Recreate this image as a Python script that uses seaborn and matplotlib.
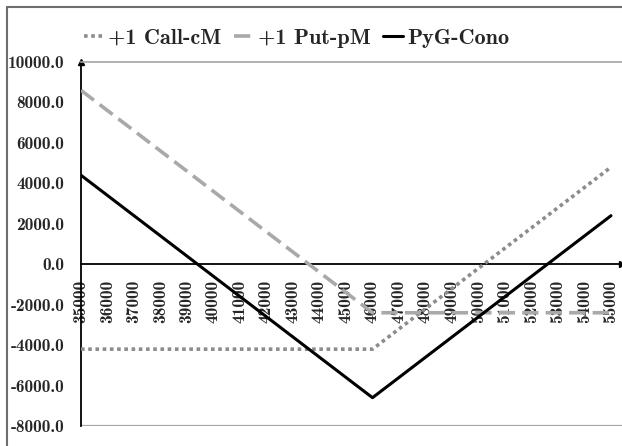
import numpy as np
import pandas as pd
import matplotlib
matplotlib.use("Agg")
import matplotlib.pyplot as plt
from matplotlib.lines import Line2D
import seaborn as sns

# Underlying price at expiry
strikes = [35000, 36000, 37000, 38000, 39000, 40000, 41000, 42000, 43000, 44000, 45000,
           46000, 47000, 48000, 49000, 50000, 51000, 52000, 53000, 54000, 55000]
# Profit / loss of each leg and of the long straddle
call_pl = [-4200, -4200, -4200, -4200, -4200, -4200, -4200, -4200, -4200, -4200, -4200,
           -4200, -3200, -2200, -1200, -200, 800, 1800, 2800, 3800, 4800]
put_pl = [8600, 7600, 6600, 5600, 4600, 3600, 2600, 1600, 600, -400, -1400,
          -2400, -2400, -2400, -2400, -2400, -2400, -2400, -2400, -2400, -2400]
cono_pl = [4400, 3400, 2400, 1400, 400, -600, -1600, -2600, -3600, -4600, -5600,
           -6600, -5600, -4600, -3600, -2600, -1600, -600, 400, 1400, 2400]
labels = ["+1 Call-cM", "+1 Put-pM", "PyG-Cono"]
y_ticks = [-8000, -6000, -4000, -2000, 0, 2000, 4000, 6000, 8000, 10000]

sns.set_style("white")
plt.rcParams["font.family"] = ["cmb10", "DejaVu Serif"]
plt.rcParams["axes.unicode_minus"] = False

df = pd.DataFrame({"x": strikes, "call": call_pl, "put": put_pl, "cono": cono_pl})

fig = plt.figure(figsize=(6.22, 4.46), dpi=100)
ax = fig.add_axes([81 / 622, 20 / 446, 1 - 81 / 622, 364 / 446])

sns.lineplot(data=df, x="x", y="call", ax=ax, color="#8c8c8c", lw=2.6,
             linestyle=(0, (1, 1)), label=labels[0], zorder=4)
sns.lineplot(data=df, x="x", y="put", ax=ax, color="#a9a9a9", lw=2.6,
             linestyle=(0, (4.5, 2)), label=labels[1], zorder=4)
sns.lineplot(data=df, x="x", y="cono", ax=ax, color="black", lw=2.2,
             label=labels[2], zorder=5)
for ln in ax.get_lines():
    ln.set_dash_capstyle("butt")

ax.set_xlim(35000, 55415)
ax.set_ylim(-8000, 10000)
ax.set_xlabel("")
ax.set_ylabel("")

# axes crossing at zero with arrow heads
ax.spines["bottom"].set_position(("data", 0))
ax.spines["left"].set_position(("data", 35000))
ax.spines["right"].set_visible(False)
ax.spines["top"].set_color("#a6a6a6")
ax.spines["top"].set_linewidth(1.2)
for s in ("bottom", "left"):
    ax.spines[s].set_color("black")
    ax.spines[s].set_linewidth(1.3)
ax.axhline(-8000, color="#a6a6a6", lw=1.6, zorder=1)
ax.plot(1, 0, ">", color="black", ms=5, transform=ax.get_yaxis_transform(), clip_on=False)
ax.plot(35000, 1, "^", color="black", ms=5, transform=ax.get_xaxis_transform(), clip_on=False)

ax.set_xticks(strikes)
ax.set_xticklabels([str(v) for v in strikes], rotation=90, va="top")
ax.set_yticks(y_ticks)
ax.set_yticklabels([f"{v:.1f}" for v in y_ticks])
ax.tick_params(axis="x", direction="inout", length=8, width=1.2, pad=7, labelsize=12.5)
ax.tick_params(axis="y", direction="inout", length=8, width=1.2, pad=8, labelsize=12.5)

ax.legend_.remove()
handles = ax.get_lines()[:3]
fig.legend(handles, labels, loc="center", bbox_to_anchor=(0.477, 0.915), ncol=3,
           frameon=False, fontsize=16, handlelength=0.9, handletextpad=0.2,
           columnspacing=0.55)

# chart frame
fig.add_artist(Line2D([7 / 622, 7 / 622], [0, 1 - 7 / 446], transform=fig.transFigure,
                      color="#6e6e6e", lw=1.5))
fig.add_artist(Line2D([7 / 622, 1], [1 - 7 / 446, 1 - 7 / 446], transform=fig.transFigure,
                      color="#6e6e6e", lw=1.5))

fig.savefig("out.png", dpi=100)
